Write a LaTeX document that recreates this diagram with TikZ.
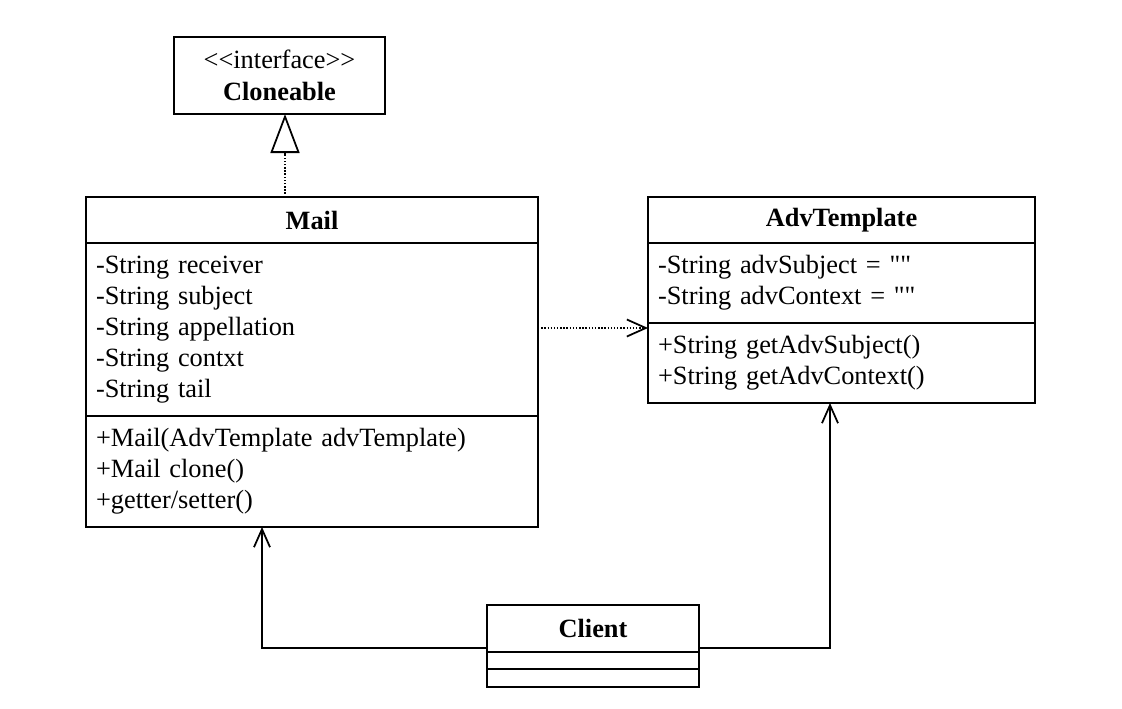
\documentclass[tikz,border=0pt]{standalone}
\usepackage{fontspec}
\setmainfont{Liberation Serif}[Ligatures=TeXOff]
\usetikzlibrary{arrows.meta}

\begin{document}
\begin{tikzpicture}[
    part/.style={draw,line width=1pt,outer sep=0pt,inner xsep=.2cm,inner ysep=0pt,font=\fontsize{15}{17.6}\selectfont},
    head/.style={part,font=\fontsize{15}{17.6}\selectfont\bfseries,align=center},
    body/.style={part,anchor=north,align=left},
    dep/.style={densely dotted,line width=.8pt,-{Straight Barb[length=.38cm,width=.34cm,line width=1pt]}},
    assoc/.style={line width=1pt,-{Straight Barb[length=.36cm,width=.32cm]}},
    realize/.style={densely dotted,line width=.8pt,-{Triangle[open,length=.78cm,width=.58cm,line width=1pt]}}
]
\useasboundingbox (0,0) rectangle (22.44,14.16);

% interface
\node[head,minimum width=4.22cm,minimum height=1.54cm] (clone) at (5.59,12.65) {\mdseries <\kern0pt<interface>\kern0pt>\\[.03cm]Cloneable};

% Mail
\node[head,minimum width=9.04cm,minimum height=.92cm] (mail) at (6.24,9.76) {Mail};
\node[body,text width=8.64cm,minimum height=3.46cm] (mailattr) at (mail.south) {-String receiver\\-String subject\\-String appellation\\-String contxt\\-String tail};
\node[body,text width=8.64cm,minimum height=2.22cm] (mailop) at (mailattr.south) {+Mail(AdvTemplate advTemplate)\\+Mail clone()\\+getter/setter()};

% AdvTemplate
\node[head,minimum width=7.74cm,minimum height=.92cm] (adv) at (16.83,9.76) {AdvTemplate};
\node[body,text width=7.34cm,minimum height=1.6cm] (advattr) at (adv.south) {-String advSubject = ""\\-String advContext = ""};
\node[body,text width=7.34cm,minimum height=1.6cm] (advop) at (advattr.south) {+String getAdvSubject()\\+String getAdvContext()};

% Client
\node[head,minimum width=4.24cm,minimum height=.94cm] (client) at (11.86,1.59) {Client};
\node[body,minimum width=4.24cm,minimum height=.34cm] (clientattr) at (client.south) {};
\node[body,minimum width=4.24cm,minimum height=.36cm] (clientop) at (clientattr.south) {};

% relations
\draw[realize] ([xshift=-.54cm]mail.north) -- ([xshift=-.54cm]mail.north |- clone.south);
\draw[dep] ([yshift=.03cm]mailattr.east) -- ([yshift=.03cm]mailattr.east -| advop.west);
\draw[assoc] ([yshift=-.39cm]client.west) -| ([xshift=-1cm]mailop.south);
\draw[assoc] ([yshift=-.39cm]client.east) -| ([xshift=-.23cm]advop.south);
\end{tikzpicture}
\end{document}
